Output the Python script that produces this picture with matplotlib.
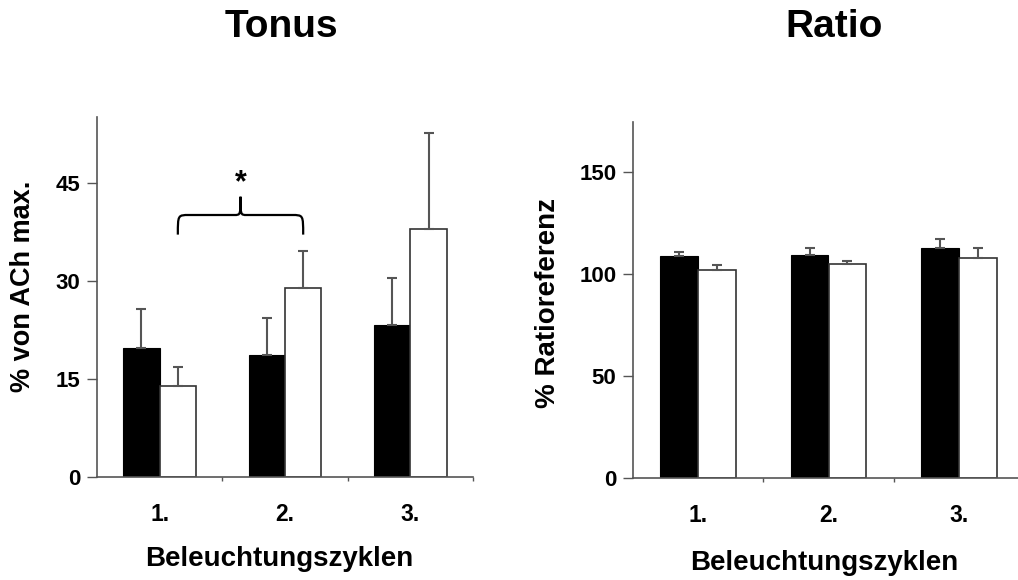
import matplotlib
matplotlib.use("Agg")
import matplotlib.pyplot as plt
from matplotlib.path import Path
from matplotlib.patches import PathPatch
import numpy as np

plt.rcParams['font.family'] = ['Liberation Sans', 'DejaVu Sans']
plt.rcParams['font.weight'] = 'bold'

# Beleuchtungszyklen 1.-3., schwarze und weisse Balken mit SEM nach oben
zyklen = ["1.", "2.", "3."]

tonus_schwarz = [19.8, 18.6, 23.2]
tonus_schwarz_err = [5.9, 5.7, 7.3]
tonus_weiss = [14.0, 28.9, 38.0]
tonus_weiss_err = [2.9, 5.7, 14.6]

ratio_schwarz = [108.8, 109.3, 112.7]
ratio_schwarz_err = [2.0, 3.4, 4.5]
ratio_weiss = [102.0, 104.9, 107.8]
ratio_weiss_err = [2.4, 1.5, 4.9]

W, H = 1018, 580
grau = '#555555'
bw = 0.29


def balken(ax, schwarz, s_err, weiss, w_err):
    x = np.arange(len(zyklen)) + 0.5
    null = [0] * len(x)
    ax.bar(x - bw / 2, schwarz, bw, color='black', edgecolor='black', lw=0.8,
           yerr=[null, s_err], ecolor=grau, capsize=3.5,
           error_kw=dict(elinewidth=1.5, capthick=1.5), zorder=2)
    ax.bar(x + bw / 2, weiss, bw, color='white', edgecolor='#333333', lw=1.2,
           yerr=[null, w_err], ecolor=grau, capsize=3.5,
           error_kw=dict(elinewidth=1.5, capthick=1.5), zorder=2)
    ax.set_xlim(0, 3)
    ax.set_xticks(x)
    ax.set_xticklabels(zyklen)
    ax.set_xticks([1, 2, 3], minor=True)
    ax.tick_params(axis='x', which='major', length=0, pad=19, labelsize=16.5)
    ax.tick_params(axis='x', which='minor', length=3, width=1, color=grau, direction='out')
    ax.tick_params(axis='y', length=7, width=1, color=grau, direction='out',
                   labelsize=16, pad=5)
    for s in ['top', 'right']:
        ax.spines[s].set_visible(False)
    for s in ['left', 'bottom']:
        ax.spines[s].set_color(grau)
        ax.spines[s].set_linewidth(1.2)
    return x


fig = plt.figure(figsize=(W / 100, H / 100), dpi=100)
ax1 = fig.add_axes([97 / W, 1 - 477 / H, (473 - 97) / W, (477 - 117) / H])
ax2 = fig.add_axes([633 / W, 1 - 478 / H, (1024 - 633) / W, (478 - 122) / H])

x1 = balken(ax1, tonus_schwarz, tonus_schwarz_err, tonus_weiss, tonus_weiss_err)
ax1.set_ylim(0, 55.1)
ax1.set_yticks([0, 15, 30, 45])

x2 = balken(ax2, ratio_schwarz, ratio_schwarz_err, ratio_weiss, ratio_weiss_err)
ax2.set_ylim(0, 174.5)
ax2.set_yticks([0, 50, 100, 150])

# geschweifte Klammer zwischen den weissen Balken von Zyklus 1 und 2
xa = x1[0] + bw / 2
xb = x1[1] + bw / 2
xm = (xa + xb) / 2
y0 = max(tonus_weiss[1] + tonus_weiss_err[1], tonus_schwarz[1] + tonus_schwarz_err[1]) + 2.5
yh = y0 + 3.0
yp = yh + 2.8
rx, rm = 0.09, 0.05
verts = [
    (xa, y0), (xa, yh), (xa, yh), (xa + rx, yh),
    (xm - rm, yh),
    (xm, yh), (xm, yh), (xm, yp),
    (xm, yh), (xm, yh), (xm + rm, yh),
    (xb - rx, yh),
    (xb, yh), (xb, yh), (xb, y0),
]
codes = [Path.MOVETO, Path.CURVE4, Path.CURVE4, Path.CURVE4,
         Path.LINETO,
         Path.CURVE4, Path.CURVE4, Path.CURVE4,
         Path.CURVE4, Path.CURVE4, Path.CURVE4,
         Path.LINETO,
         Path.CURVE4, Path.CURVE4, Path.CURVE4]
ax1.add_patch(PathPatch(Path(verts, codes), fill=False, lw=1.6, color='black',
                        clip_on=False))
ax1.text(xm, yp + 2.1, '*', ha='center', va='center', fontsize=22, fontweight='bold')

# Titel und Achsenbeschriftungen
fig.text(281 / W, 1 - 37 / H, 'Tonus', ha='center', va='baseline', fontsize=28, fontweight='bold')
fig.text(834 / W, 1 - 37 / H, 'Ratio', ha='center', va='baseline', fontsize=28, fontweight='bold')
fig.text(279 / W, 1 - 566 / H, 'Beleuchtungszyklen', ha='center', va='baseline', fontsize=20, fontweight='bold')
fig.text(824 / W, 1 - 570 / H, 'Beleuchtungszyklen', ha='center', va='baseline', fontsize=20, fontweight='bold')
fig.text(23 / W, 1 - 286 / H, '% von ACh max.', ha='center', va='center', rotation=90,
         fontsize=19.5, fontweight='bold')
fig.text(548 / W, 1 - 303 / H, '% Ratioreferenz', ha='center', va='center', rotation=90,
         fontsize=20, fontweight='bold')

fig.savefig('out.png', dpi=100)
